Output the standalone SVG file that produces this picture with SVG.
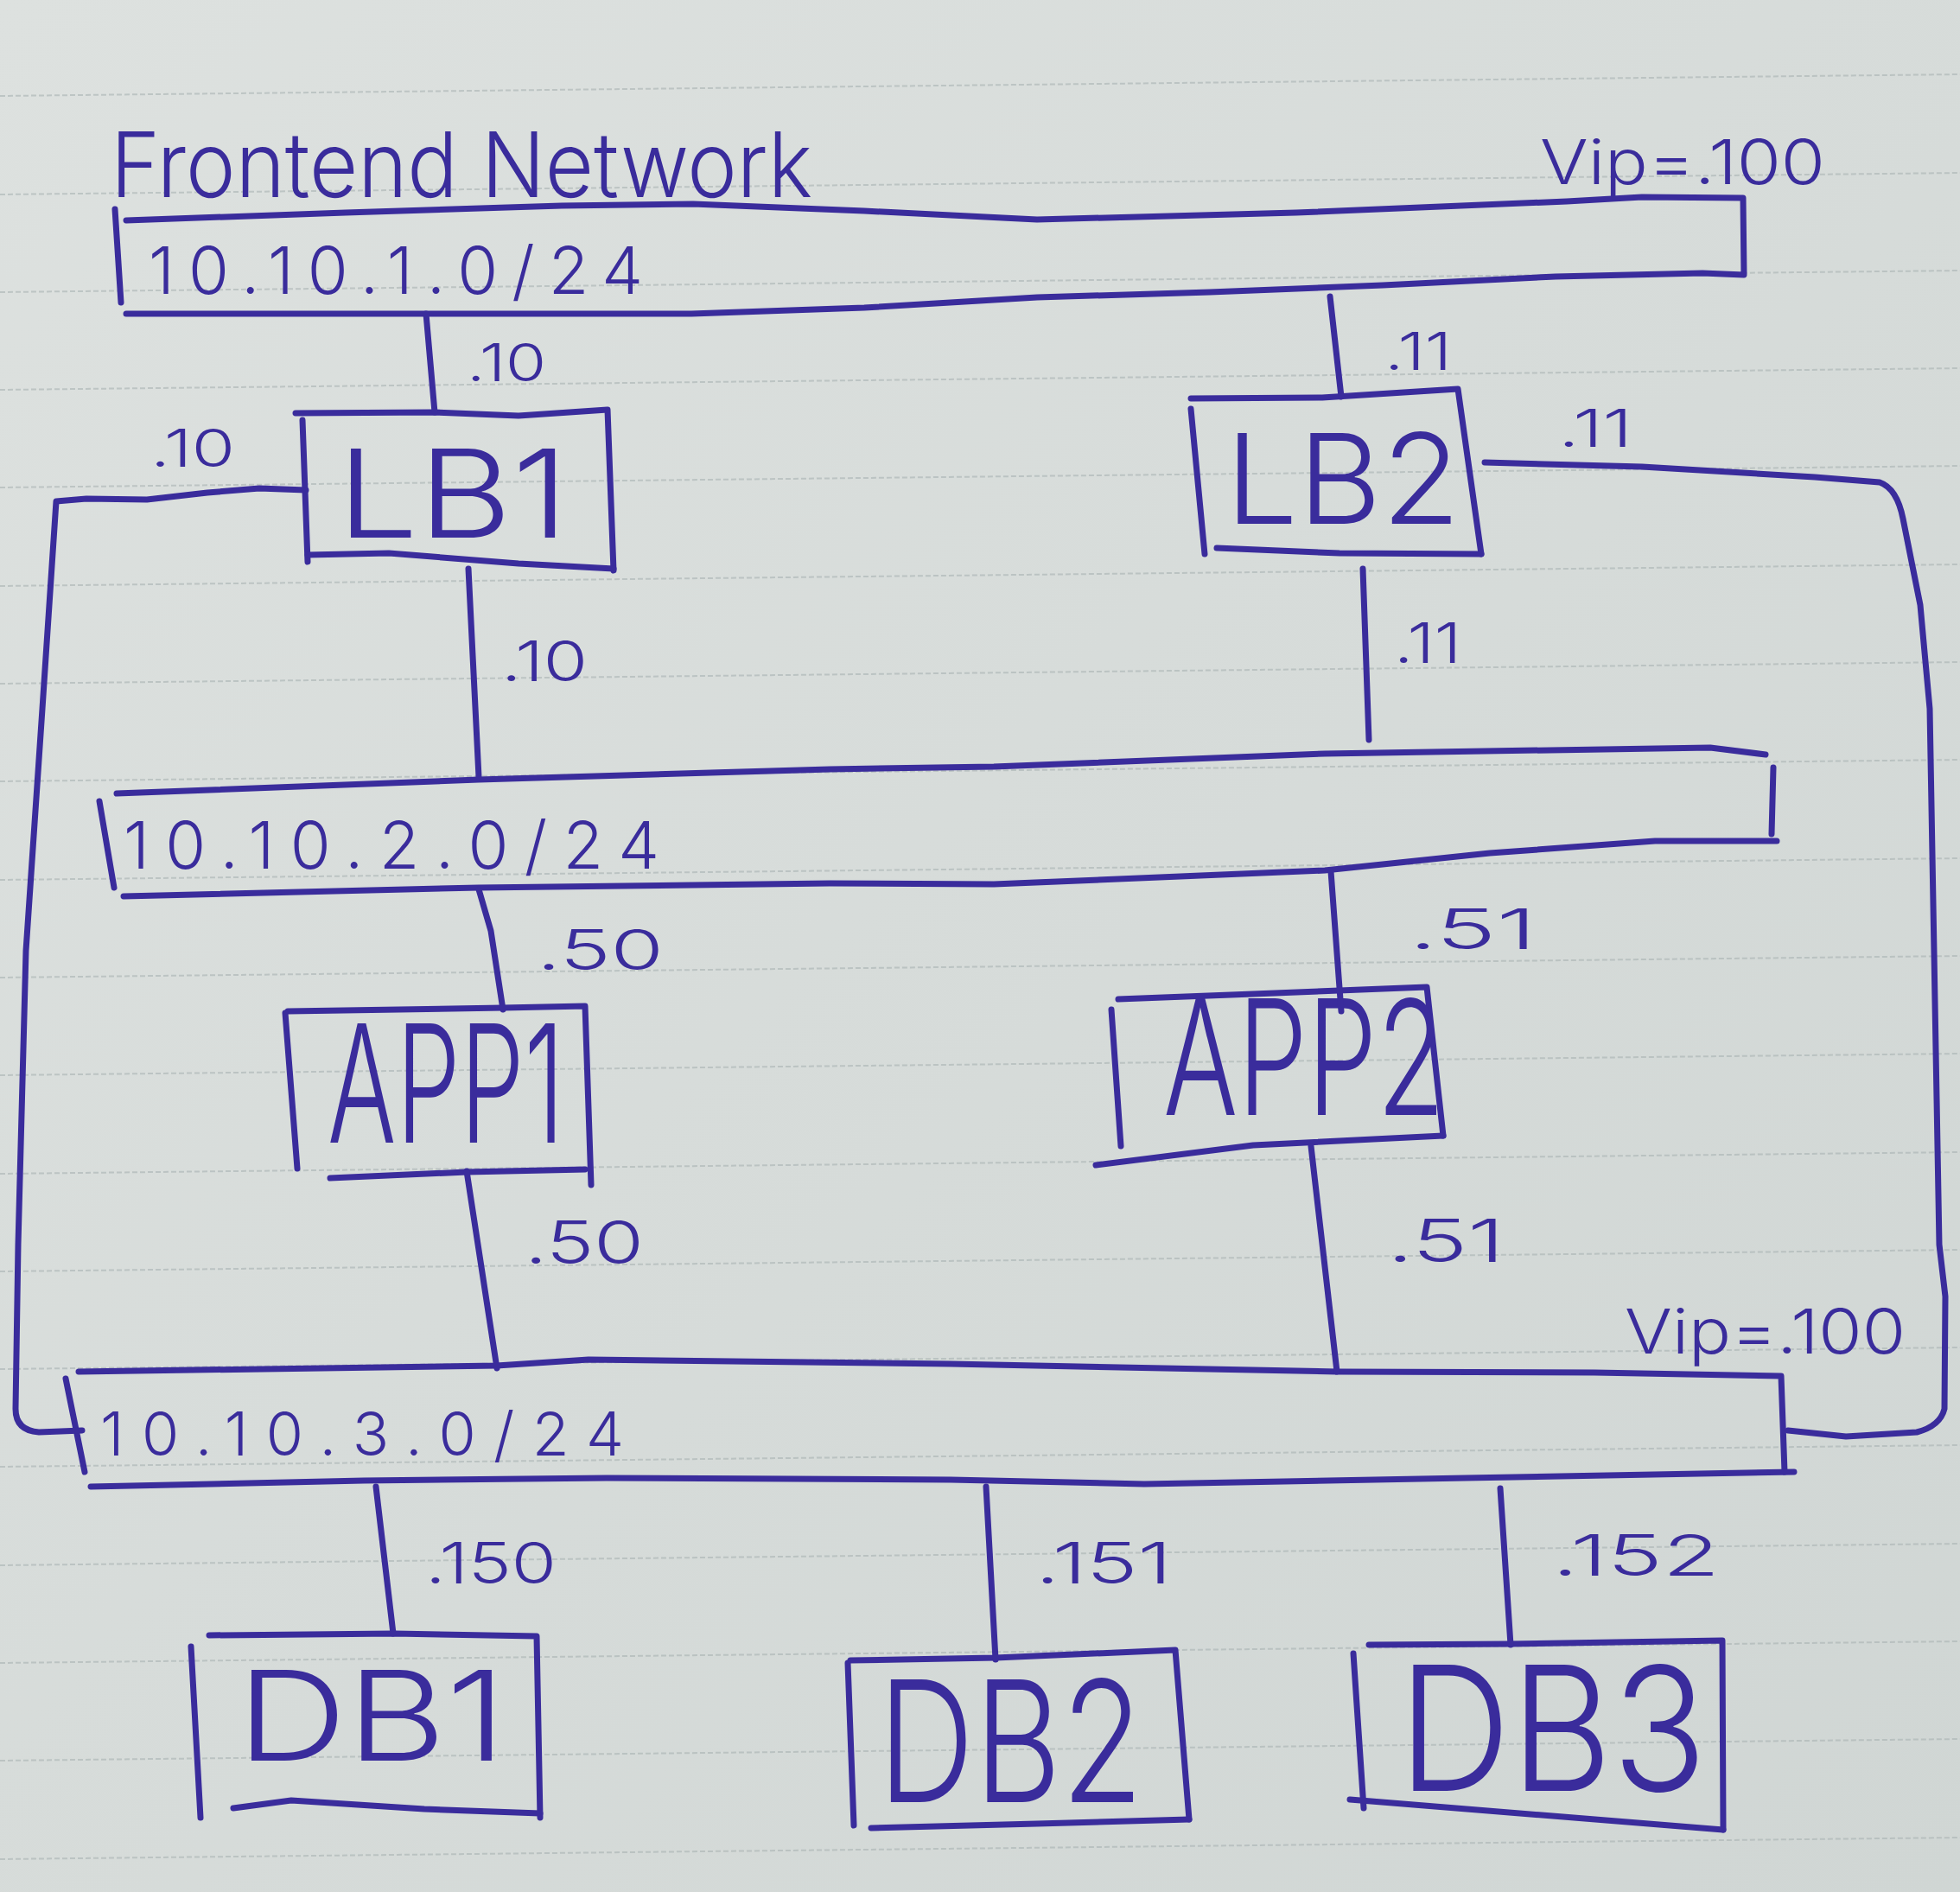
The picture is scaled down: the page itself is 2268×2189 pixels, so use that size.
<svg xmlns="http://www.w3.org/2000/svg" width="2268" height="2189" viewBox="0 0 2268 2189">
<defs>
<linearGradient id="paper" x1="0" y1="0" x2="1" y2="1">
<stop offset="0" stop-color="#dde1df"/>
<stop offset="1" stop-color="#d0d6d4"/>
</linearGradient>
<style>
.ink{fill:none;stroke:#3a2c9c;stroke-width:7;stroke-linecap:round;stroke-linejoin:round}
.rule{fill:none;stroke:#a9b2b3;stroke-width:2;stroke-dasharray:6 3;opacity:0.6}
.t{font-family:Inter,'Open Sans','DejaVu Sans',sans-serif;font-weight:300;fill:#3a2c9c}
</style>
</defs>
<rect width="2268" height="2189" fill="url(#paper)"/>
<g id="ruling">
<path class="rule" d="M0,111 L2268,86"/>
<path class="rule" d="M0,225 L2268,200"/>
<path class="rule" d="M0,338 L2268,313"/>
<path class="rule" d="M0,451 L2268,426"/>
<path class="rule" d="M0,564 L2268,539"/>
<path class="rule" d="M0,678 L2268,653"/>
<path class="rule" d="M0,791 L2268,766"/>
<path class="rule" d="M0,904 L2268,879"/>
<path class="rule" d="M0,1018 L2268,993"/>
<path class="rule" d="M0,1131 L2268,1106"/>
<path class="rule" d="M0,1244 L2268,1219"/>
<path class="rule" d="M0,1358 L2268,1333"/>
<path class="rule" d="M0,1471 L2268,1446"/>
<path class="rule" d="M0,1584 L2268,1559"/>
<path class="rule" d="M0,1697 L2268,1672"/>
<path class="rule" d="M0,1811 L2268,1786"/>
<path class="rule" d="M0,1924 L2268,1899"/>
<path class="rule" d="M0,2037 L2268,2012"/>
<path class="rule" d="M0,2151 L2268,2126"/>
</g>

<text class="t" x="128" y="228" font-size="104" textLength="812" lengthAdjust="spacingAndGlyphs">Frontend Network</text>

<g id="net-frontend">
<path class="ink" d="M146,255 L400,246 L650,238 L802,236 L1000,244 L1200,254 L1500,246 L1813,233 L1900,228 L2017,229 L2018,318 L1970,316 L1800,320 L1600,330 L1400,338 L1200,344 L1000,356 L800,363 L450,363 L146,363"/>
<path class="ink" d="M133,242 L140,350"/>
<text class="t" x="172" y="340" font-size="76" textLength="572" lengthAdjust="spacing">10.10.1.0/24</text>
<text class="t" x="1782" y="213" font-size="72" textLength="330" lengthAdjust="spacingAndGlyphs">Vip=.100</text>
</g>

<g id="net-app">
<path class="ink" d="M135,918 L554,902 L960,890 L1150,887 L1533,872 L1979,865 L2043,873"/>
<path class="ink" d="M2052,888 L2050,965"/>
<path class="ink" d="M2056,973 L1915,973 L1724,987 L1533,1007 L1150,1023 L960,1022 L554,1027 L143,1037"/>
<path class="ink" d="M115,927 L132,1027"/>
<text class="t" x="143" y="1005" font-size="76" textLength="620" lengthAdjust="spacing">10.10.2.0/24</text>
</g>

<g id="net-db">
<path class="ink" d="M91,1587 L575,1580 L681,1573 L1100,1578 L1547,1587 L1845,1588 L2061,1592 L2065,1703"/>
<path class="ink" d="M2076,1703 L1696,1710 L1324,1717 L1100,1712 L702,1710 L421,1713 L105,1720"/>
<path class="ink" d="M76,1595 L98,1703"/>
<text class="t" x="116" y="1684" font-size="70" textLength="606" lengthAdjust="spacing">10.10.3.0/24</text>
<text class="t" x="1880" y="1566" font-size="72" textLength="325" lengthAdjust="spacingAndGlyphs">Vip=.100</text>
</g>

<g id="lb1">
<path class="ink" d="M342,478 L503,477 L600,481 L703,474 L710,660"/>
<path class="ink" d="M350,486 L356,650"/>
<path class="ink" d="M356,642 L450,640 L600,652 L710,658"/>
<text class="t" x="390" y="622" font-size="141" textLength="268" lengthAdjust="spacingAndGlyphs">LB1</text>
</g>

<g id="lb2">
<path class="ink" d="M1378,461 L1530,460 L1687,450 L1714,641"/>
<path class="ink" d="M1378,473 L1394,641"/>
<path class="ink" d="M1408,634 L1550,640 L1714,641"/>
<text class="t" x="1418" y="606" font-size="145" textLength="272" lengthAdjust="spacingAndGlyphs">LB2</text>
</g>

<g id="app1">
<path class="ink" d="M333,1170 L582,1166 L677,1164 L684,1371"/>
<path class="ink" d="M330,1172 L344,1352"/>
<path class="ink" d="M382,1363 L540,1356 L677,1353"/>
<text class="t" x="379" y="1322" font-size="190" textLength="274" lengthAdjust="spacingAndGlyphs">APP1</text>
</g>

<g id="app2">
<path class="ink" d="M1294,1156 L1450,1150 L1651,1142 L1670,1314"/>
<path class="ink" d="M1286,1168 L1297,1326"/>
<path class="ink" d="M1268,1348 L1450,1325 L1670,1314"/>
<text class="t" x="1346" y="1290" font-size="185" textLength="326" lengthAdjust="spacingAndGlyphs">APP2</text>
</g>

<g id="db1">
<path class="ink" d="M242,1892 L456,1890 L621,1893 L625,2103"/>
<path class="ink" d="M221,1905 L232,2103"/>
<path class="ink" d="M270,2092 L337,2083 L491,2093 L625,2098"/>
<text class="t" x="274" y="2037" font-size="145" textLength="312" lengthAdjust="spacingAndGlyphs">DB1</text>
</g>

<g id="db2">
<path class="ink" d="M984,1921 L1152,1918 L1360,1909 L1376,2105"/>
<path class="ink" d="M981,1924 L988,2112"/>
<path class="ink" d="M1008,2115 L1200,2110 L1376,2105"/>
<text class="t" x="1016" y="2085" font-size="195" textLength="307" lengthAdjust="spacingAndGlyphs">DB2</text>
</g>

<g id="db3">
<path class="ink" d="M1584,1903 L1748,1902 L1993,1898 L1994,2117"/>
<path class="ink" d="M1566,1913 L1578,2092"/>
<path class="ink" d="M1562,2082 L1994,2117"/>
<text class="t" x="1618" y="2072" font-size="200" textLength="357" lengthAdjust="spacingAndGlyphs">DB3</text>
</g>

<g id="connectors">
<path class="ink" d="M493,363 L503,477"/>
<path class="ink" d="M1539,343 L1552,459"/>
<path class="ink" d="M354,567 L300,565 L240,570 L170,578 L100,577 L65,580 L49,820 L30,1100 L21,1440 L18,1630 Q18,1655 45,1657 L95,1655"/>
<path class="ink" d="M1718,535 L1900,540 L2100,552 L2175,558 Q2195,565 2202,600 L2222,700 L2233,820 L2244,1440 L2251,1500 L2250,1630 Q2245,1650 2218,1657 L2136,1662 L2069,1655"/>
<path class="ink" d="M542,658 L554,899"/>
<path class="ink" d="M1577,658 L1584,856"/>
<path class="ink" d="M554,1029 L568,1077 L582,1168"/>
<path class="ink" d="M1540,1008 L1552,1170"/>
<path class="ink" d="M540,1355 L575,1583"/>
<path class="ink" d="M1517,1326 L1547,1587"/>
<path class="ink" d="M435,1720 L455,1890"/>
<path class="ink" d="M1141,1720 L1152,1920"/>
<path class="ink" d="M1736,1722 L1748,1903"/>
<text class="t" x="540" y="441" font-size="60" textLength="92" lengthAdjust="spacingAndGlyphs">.10</text>
<text class="t" x="174" y="540" font-size="60" textLength="98" lengthAdjust="spacingAndGlyphs">.10</text>
<text class="t" x="1602" y="428" font-size="60" textLength="78" lengthAdjust="spacingAndGlyphs">.11</text>
<text class="t" x="1803" y="517" font-size="60" textLength="86" lengthAdjust="spacingAndGlyphs">.11</text>
<text class="t" x="580" y="788" font-size="64" textLength="100" lengthAdjust="spacingAndGlyphs">.10</text>
<text class="t" x="1613" y="767" font-size="64" textLength="78" lengthAdjust="spacingAndGlyphs">.11</text>
<text class="t" x="621" y="1122" font-size="64" textLength="147" lengthAdjust="spacingAndGlyphs">.50</text>
<text class="t" x="1630" y="1098" font-size="64" textLength="148" lengthAdjust="spacingAndGlyphs">.51</text>
<text class="t" x="607" y="1462" font-size="68" textLength="138" lengthAdjust="spacingAndGlyphs">.50</text>
<text class="t" x="1605" y="1460" font-size="68" textLength="136" lengthAdjust="spacingAndGlyphs">.51</text>
<text class="t" x="492" y="1832" font-size="66" textLength="152" lengthAdjust="spacingAndGlyphs">.150</text>
<text class="t" x="1198" y="1832" font-size="66" textLength="158" lengthAdjust="spacingAndGlyphs">.151</text>
<text class="t" x="1796" y="1823" font-size="66" textLength="194" lengthAdjust="spacingAndGlyphs">.152</text>
</g>
</svg>
